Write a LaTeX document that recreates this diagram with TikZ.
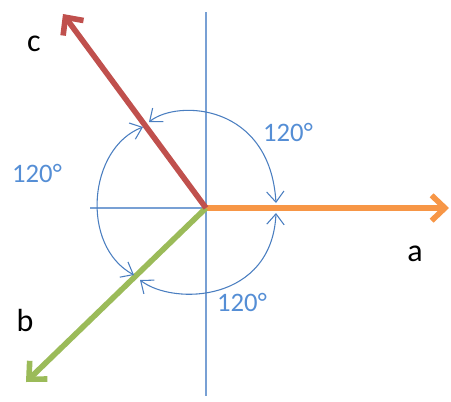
\documentclass[tikz,border=0pt]{standalone}
\usepackage{fontspec}
\setmainfont{Carlito}
\usepackage{xcolor}
\usepackage{tikz}
\usetikzlibrary{arrows.meta}

\definecolor{axisblue}{RGB}{120,160,212}
\definecolor{arcblue}{RGB}{74,126,192}
\definecolor{labelblue}{RGB}{85,142,213}
\definecolor{phaseorange}{RGB}{247,150,70}
\definecolor{phasered}{RGB}{192,80,77}
\definecolor{phasegreen}{RGB}{155,187,89}

\begin{document}
\begin{tikzpicture}[
    x=0.75pt, y=-0.75pt,
    axis/.style={
        draw=axisblue,
        line width=1.1pt
    },
    phasor/.style={
        line width=4.2pt,
        -{Straight Barb[length=10pt,width=19pt]}
    },
    anglearc/.style={
        draw=arcblue,
        line width=0.8pt,
        {Straight Barb[length=8pt,width=13pt]}-{Straight Barb[length=8pt,width=13pt]}
    },
    phaselabel/.style={
        font=\fontsize{24}{28}\selectfont,
        text=black
    },
    anglelabel/.style={
        font=\fontsize{20}{24}\selectfont,
        text=labelblue
    }
]
\useasboundingbox (0,0) rectangle (451,401);

% ---------------- AXES ----------------

\coordinate (O) at (206,208);
\coordinate (top) at (206,12);
\coordinate (bottom) at (206,396);
\coordinate (left) at (90,208);

\draw[axis] (top) -- (bottom);
\draw[axis] (left) -- (O);

% ---------------- PHASORS ----------------

\coordinate (atip) at (449,208);
\coordinate (btip) at (26,382);
\coordinate (ctip) at (63,14);

\draw[phasor, phaseorange] (O) -- (atip);
\draw[phasor, phasegreen] (O) -- (btip);
\draw[phasor, phasered] (O) -- (ctip);

\node[phaselabel] (a) at (415,254) {a};
\node[phaselabel] (b) at (25,320) {b};
\node[phaselabel] (c) at (34,44) {c};

% ---------------- ANGLES ----------------

% arc ends, just off each phasor
\coordinate (onc1) at (149,122);
\coordinate (onc2) at (143,127);
\coordinate (ona1) at (276,203);
\coordinate (ona2) at (276,213);
\coordinate (onb1) at (134,275);
\coordinate (onb2) at (140,280);

\draw[anglearc] (onc1) .. controls (178,99) and (270,104) .. (ona1);
\draw[anglearc] (onc2) .. controls (88,148) and (80,246) .. (onb1);
\draw[anglearc] (onb2) .. controls (174,306) and (272,302) .. (ona2);

\node[anglelabel] (ca) at (288,132) {120°};
\node[anglelabel] (cb) at (37,173) {120°};
\node[anglelabel] (ab) at (242,302) {120°};

\end{tikzpicture}
\end{document}
